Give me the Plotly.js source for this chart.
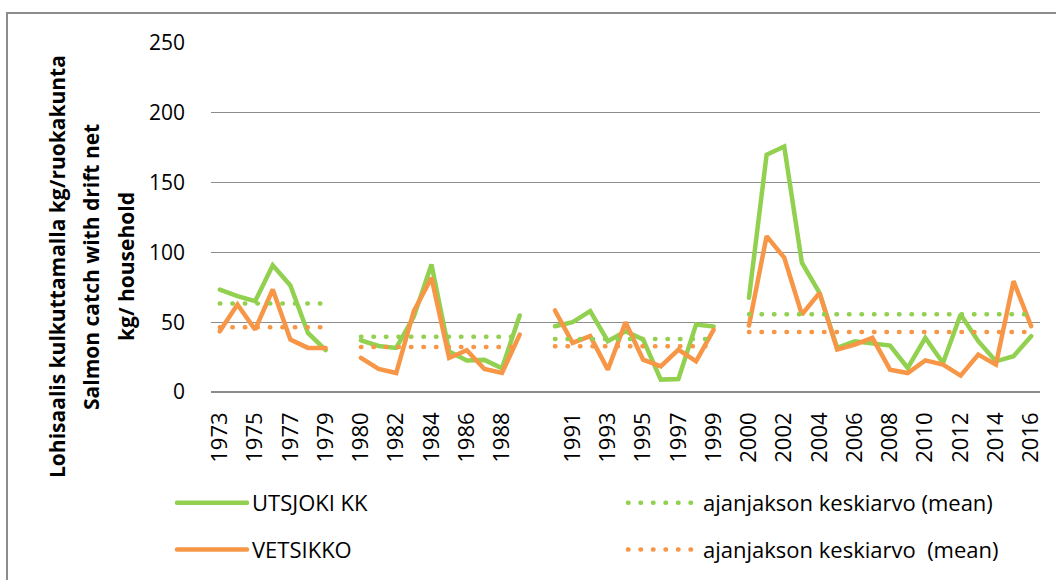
<!DOCTYPE html>
<html>
<head>
<meta charset="utf-8">
<script src="https://cdn.plot.ly/plotly-3.0.1.min.js"></script>
<style>
  html, body { margin: 0; padding: 0; background: #fff; overflow: hidden; }
  #wrap { position: relative; width: 1056px; height: 580px; overflow: hidden; }
  #frame { position: absolute; left: 6px; top: 12px; width: 1200px; height: 700px;
           border: 2px solid #8c8c8c; box-sizing: border-box; pointer-events: none; }
  #chart { position: absolute; left: 0; top: 0; width: 1056px; height: 580px; }
  .scatterlayer .js-line, .legendlines path { stroke-linecap: round !important; }
</style>
</head>
<body>
<div id="wrap">
  <div id="chart"></div>
  <div id="frame"></div>
</div>
<script>
// Categories (blank entries separate the periods)
const categories = [
  '1973','1974','1975','1976','1977','1978','1979',' ',
  '1980','1981','1982','1983','1984','1985','1986','1987','1988','1989','  ',
  '1990','1991','1992','1993','1994','1995','1996','1997','1998','1999','   ',
  '2000','2001','2002','2003','2004','2005','2006','2007','2008','2009','2010',
  '2011','2012','2013','2014','2015','2016'
];

// UTSJOKI KK (kg / household)
const utsjoki = [
  73.4, 68.7, 65.0, 90.7, 76.3, 42.3, 30.0, null,
  37.0, 33.0, 31.6, 54.0, 91.4, 29.0, 22.5, 23.0, 17.0, 54.8, null,
  47.1, 50.0, 57.9, 36.4, 43.5, 37.6, 8.9, 9.3, 48.3, 47.0, null,
  67.5, 170.0, 175.8, 92.6, 71.0, 31.6, 36.4, 35.2, 33.3, 17.2, 38.8,
  20.8, 55.5, 36.4, 22.0, 25.6, 40.0
];

// VETSIKKO (kg / household)
const vetsikko = [
  43.5, 62.7, 44.7, 73.4, 37.6, 31.6, 31.6, null,
  24.4, 16.5, 13.6, 57.9, 81.8, 24.4, 29.9, 16.5, 13.6, 41.1, null,
  58.4, 35.2, 40.0, 16.0, 50.0, 23.2, 18.4, 30.4, 22.0, 44.7, null,
  47.6, 111.7, 96.2, 55.5, 71.0, 30.4, 34.0, 38.8, 16.0, 13.6, 22.7,
  19.6, 11.7, 26.8, 19.6, 79.4, 47.1
];

// Period means (1973-79, 1980-89, 1990-99, 2000-16)
const periodMeanUtsjoki  = [63.4, 39.5, 38.0, 55.7];
const periodMeanVetsikko = [46.4, 32.3, 32.8, 43.0];

const legendNames = ['UTSJOKI KK', 'VETSIKKO', 'ajanjakson keskiarvo (mean)', 'ajanjakson keskiarvo  (mean)'];
const yTitleLines = ['Lohisaalis kulkuttamalla kg/ruokakunta', 'Salmon catch with drift net', 'kg/ household'];

// expand period means along the categories (null at the separators)
function expandMeans(means) {
  let period = 0;
  return categories.map(c => {
    if (c.trim() === '') { period++; return null; }
    return means[period];
  });
}

const GREEN = '#92D050', ORANGE = '#F79646';
const FONT = '"Open Sans", "Liberation Sans", sans-serif';

const traces = [
  { x: categories, y: utsjoki, name: legendNames[0], type: 'scatter', mode: 'lines',
    line: { color: GREEN, width: 4.5 }, legend: 'legend', legendgroup: 'a', connectgaps: false },
  { x: categories, y: vetsikko, name: legendNames[1], type: 'scatter', mode: 'lines',
    line: { color: ORANGE, width: 4.5 }, legend: 'legend', legendgroup: 'b', connectgaps: false },
  { x: categories, y: expandMeans(periodMeanUtsjoki), name: legendNames[2], type: 'scatter', mode: 'lines',
    line: { color: GREEN, width: 4.5, dash: '0.5px,12px' }, legend: 'legend2', legendgroup: 'c', connectgaps: false },
  { x: categories, y: expandMeans(periodMeanVetsikko), name: legendNames[3], type: 'scatter', mode: 'lines',
    line: { color: ORANGE, width: 4.5, dash: '0.5px,12px' }, legend: 'legend2', legendgroup: 'd', connectgaps: false }
];

const L = 211, R = 16, T = 43, B = 188;
const PW = 1056 - L - R, PH = 580 - T - B;
const px2x = p => (p - L) / PW;
const px2y = p => (580 - B - p) / PH;

const annotations = yTitleLines.map((t, i) => ({
  text: t, xref: 'paper', yref: 'paper',
  x: px2x([57, 91, 126][i]), y: px2y(267),
  xanchor: 'center', yanchor: 'middle', textangle: -90, showarrow: false,
  font: { family: FONT, size: 21, color: '#000', weight: 'bold' }
}));

const layout = {
  width: 1056, height: 580,
  margin: { l: L, r: R, t: T, b: B, autoexpand: false },
  paper_bgcolor: 'rgba(0,0,0,0)', plot_bgcolor: 'rgba(0,0,0,0)',
  font: { family: FONT, size: 20, color: '#000' },
  showlegend: true,
  xaxis: {
    type: 'category', categoryorder: 'array', categoryarray: categories,
    range: [-0.5, categories.length - 0.5],
    tickmode: 'linear', tick0: 0, dtick: 2, tickangle: -90,
    showgrid: false, showline: false, zeroline: false, ticks: '',
    ticklabelstandoff: 15,
    tickfont: { family: FONT, size: 22, color: '#000' }
  },
  yaxis: {
    range: [0, 250], tickvals: [0, 50, 100, 150, 200, 250],
    showgrid: true, gridcolor: '#8c8c8c', gridwidth: 1.3,
    zeroline: true, zerolinecolor: '#8c8c8c', zerolinewidth: 1.3,
    showline: false, ticks: '', ticklabelstandoff: 25,
    tickfont: { family: FONT, size: 21, color: '#000' }
  },
  legend: {
    orientation: 'v', x: px2x(172), y: px2y(482), xanchor: 'left', yanchor: 'top',
    traceorder: 'grouped', tracegroupgap: 15, itemwidth: 70,
    font: { family: FONT, size: 22, color: '#000' }, bgcolor: 'rgba(0,0,0,0)'
  },
  legend2: {
    orientation: 'v', x: px2x(623), y: px2y(482), xanchor: 'left', yanchor: 'top',
    traceorder: 'grouped', tracegroupgap: 15, itemwidth: 70,
    font: { family: FONT, size: 22, color: '#000' }, bgcolor: 'rgba(0,0,0,0)'
  },
  annotations: annotations
};

Plotly.newPlot('chart', traces, layout, { displayModeBar: false, staticPlot: true });
</script>
</body>
</html>
